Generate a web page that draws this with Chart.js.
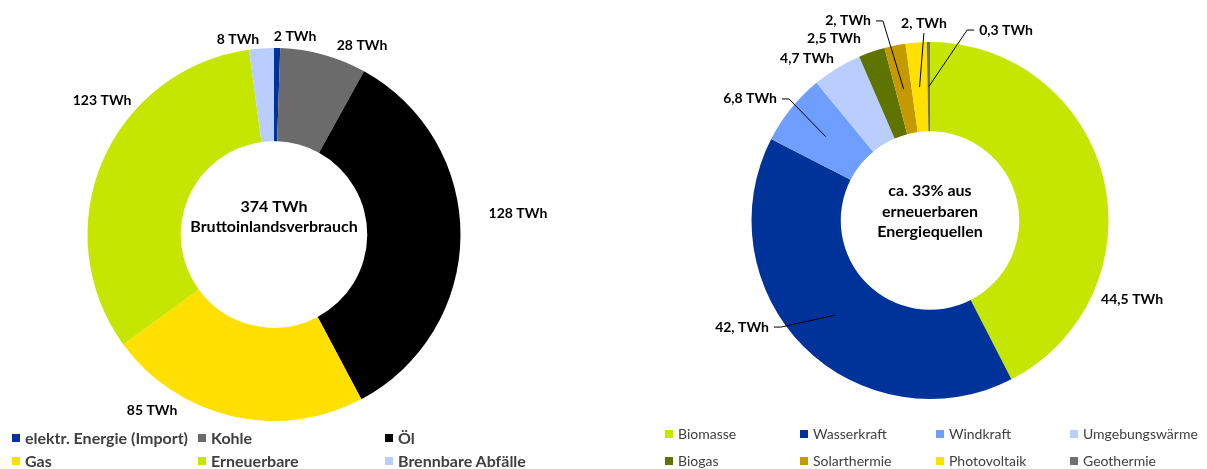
<!DOCTYPE html>
<html>
<head>
<meta charset="utf-8">
<script src="https://cdn.jsdelivr.net/npm/chart.js@4.4.1/dist/chart.umd.min.js"></script>
<style>
  html, body { margin: 0; padding: 0; background: #fff; width: 1207px; height: 469px; overflow: hidden; font-family: Lato, "Open Sans", sans-serif; }
  #c1 { position: absolute; left: 0; top: 0; }
  #c2 { position: absolute; left: 600px; top: 0; }
  .leg { position: absolute; display: flex; align-items: center; white-space: nowrap; font-size: 14px; line-height: 16px; height: 16px; color: #404040; }
  .leg.bold { font-weight: bold; font-size: 16px; }
  .leg i { display: inline-block; width: 8px; height: 8px; margin-right: 5px; flex: none; }
</style>
</head>
<body>
<canvas id="c1" width="600" height="430"></canvas>
<canvas id="c2" width="607" height="430"></canvas>
<div id="legend1"></div>
<div id="legend2"></div>
<script>
// ---------- data ----------
const leftCategories = ['elektr. Energie (Import)', 'Kohle', 'Öl', 'Gas', 'Erneuerbare', 'Brennbare Abfälle'];
const leftValues = [2, 28, 128, 85, 123, 8];
const leftValueLabels = ['2 TWh', '28 TWh', '128 TWh', '85 TWh', '123 TWh', '8 TWh'];
const leftCenterText = ['374 TWh', 'Bruttoinlandsverbrauch'];

const rightCategories = ['Biomasse', 'Wasserkraft', 'Windkraft', 'Umgebungswärme', 'Biogas', 'Solarthermie', 'Photovoltaik', 'Geothermie'];
const rightValues = [44.5, 42, 6.8, 4.7, 2.5, 2, 2, 0.3];
const rightValueLabels = ['44,5 TWh', '42, TWh', '6,8 TWh', '4,7 TWh', '2,5 TWh', '2, TWh', '2, TWh', '0,3 TWh'];
const rightCenterText = ['ca. 33% aus', 'erneuerbaren', 'Energiequellen'];

// ---------- styles ----------
const leftColors = ['#003399', '#6B6B6B', '#000000', '#FFE000', '#C5E600', '#B9CEFF'];
const rightColors = ['#C5E600', '#003399', '#6E9EFF', '#B9CEFF', '#5F7300', '#C49A00', '#FFE000', '#707070'];

// label placement in units of outer radius, relative to the doughnut centre
const leftLabelPos = [[0.113, -1.064], [0.472, -1.011], [1.308, -0.115], [-0.654, 0.941], [-0.922, -0.716], [-0.193, -1.048]];
const leftLeaders = [null, null, null, null, null, null];
const rightLabelPos = [[1.132, 0.440], [-1.053, 0.597], [-1.008, -0.681], [-0.689, -0.905], [-0.538, -1.017], [-0.459, -1.118], [-0.034, -1.106], [0.426, -1.067]];
const rightLeaders = [null, 'right', 'right', null, null, 'right', 'bottom', 'left'];

const FONT = 'Lato, "Open Sans", sans-serif';

const sliceLabels = {
  id: 'sliceLabels',
  afterDatasetsDraw(chart, args, opts) {
    const ctx = chart.ctx;
    const meta = chart.getDatasetMeta(0);
    ctx.save();
    ctx.font = 'bold 14px ' + FONT;
    ctx.fillStyle = '#000';
    ctx.strokeStyle = '#000';
    ctx.lineWidth = 1;
    ctx.textAlign = 'center';
    ctx.textBaseline = 'middle';
    let cx = 0, cy = 0, R = 1;
    meta.data.forEach((arc, i) => {
      const p = arc.getProps(['x', 'y', 'startAngle', 'endAngle', 'innerRadius', 'outerRadius'], true);
      cx = p.x; cy = p.y; R = p.outerRadius;
      const pos = opts.positions[i];
      const lx = p.x + pos[0] * p.outerRadius;
      const ly = p.y + pos[1] * p.outerRadius;
      const txt = opts.texts[i];
      ctx.fillText(txt, lx, ly);
      const lead = opts.leaders[i];
      if (lead) {
        const mid = (p.startAngle + p.endAngle) / 2;
        const rr = (p.innerRadius + p.outerRadius) / 2;
        const tx = p.x + Math.cos(mid) * rr;
        const ty = p.y + Math.sin(mid) * rr;
        const w = ctx.measureText(txt).width;
        ctx.beginPath();
        if (lead === 'right') { ctx.moveTo(lx + w / 2 + 5, ly); ctx.lineTo(lx + w / 2 + 12, ly); }
        else if (lead === 'left') { ctx.moveTo(lx - w / 2 - 5, ly); ctx.lineTo(lx - w / 2 - 12, ly); }
        else { ctx.moveTo(lx, ly + 10); }
        ctx.lineTo(tx, ty);
        ctx.stroke();
      }
    });
    // centre text
    ctx.font = 'bold 16px ' + FONT;
    const lines = opts.center;
    let y = cy + opts.centerTop * R;
    lines.forEach(l => { ctx.fillText(l, cx, y); y += opts.lineHeight; });
    ctx.restore();
  }
};

function makeChart(id, cats, vals, colors, padding, labelOpts) {
  return new Chart(document.getElementById(id), {
    type: 'doughnut',
    data: {
      labels: cats,
      datasets: [{ data: vals, backgroundColor: colors, borderWidth: 0, hoverBorderWidth: 0, hoverOffset: 0 }]
    },
    options: {
      responsive: false,
      animation: false,
      events: [],
      cutout: '50%',
      layout: { padding: padding },
      plugins: {
        legend: { display: false },
        tooltip: { enabled: false },
        sliceLabels: labelOpts
      }
    },
    plugins: [sliceLabels]
  });
}

function buildLegend(elId, cats, colors, cols, xs, ys, bold) {
  const host = document.getElementById(elId);
  cats.forEach((c, i) => {
    const d = document.createElement('div');
    d.className = 'leg' + (bold ? ' bold' : '');
    d.style.left = xs[i % cols] + 'px';
    d.style.top = (ys[Math.floor(i / cols)] - 8) + 'px';
    const sq = document.createElement('i');
    sq.style.background = colors[i];
    d.appendChild(sq);
    d.appendChild(document.createTextNode(c));
    host.appendChild(d);
  });
}

function init() {
  makeChart('c1', leftCategories, leftValues, leftColors,
    { left: 87.5, right: 139.5, top: 48, bottom: 9 },
    { texts: leftValueLabels, positions: leftLabelPos, leaders: leftLeaders, center: leftCenterText, centerTop: -0.147, lineHeight: 20 });
  makeChart('c2', rightCategories, rightValues, rightColors,
    { left: 151.5, right: 98.5, top: 42, bottom: 31 },
    { texts: rightValueLabels, positions: rightLabelPos, leaders: rightLeaders, center: rightCenterText, centerTop: -0.165, lineHeight: 20.5 });
  buildLegend('legend1', leftCategories, leftColors, 3, [12, 198, 385], [438, 461], true);
  buildLegend('legend2', rightCategories, rightColors, 4, [665, 800, 936, 1070], [434, 461], false);
}

if (document.fonts && document.fonts.load) {
  Promise.all([document.fonts.load('bold 14px Lato'), document.fonts.load('14px Lato'), document.fonts.load('bold 16px Lato')]).then(init, init);
} else {
  init();
}
</script>
</body>
</html>
